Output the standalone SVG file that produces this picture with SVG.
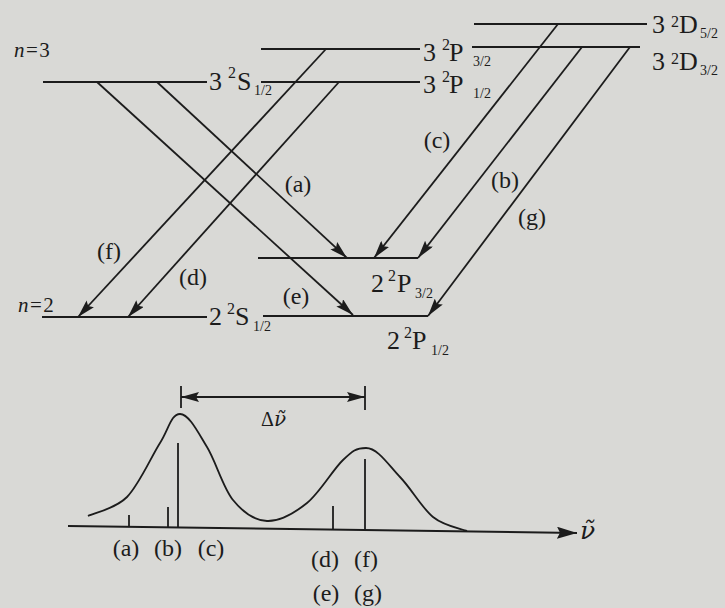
<svg xmlns="http://www.w3.org/2000/svg" width="725" height="608" viewBox="0 0 725 608">
<defs>
<marker id="ah" markerUnits="userSpaceOnUse" markerWidth="18" markerHeight="10" refX="18" refY="5" orient="auto-start-reverse" viewBox="0 0 18 10"><path d="M0,0 L18,5 L0,10 L3,5 Z" fill="#1c1c1c"/></marker>
<marker id="ax" markerUnits="userSpaceOnUse" markerWidth="20" markerHeight="12" refX="20" refY="6" orient="auto" viewBox="0 0 20 12"><path d="M0,0 L20,6 L0,12 L3,6 Z" fill="#1c1c1c"/></marker>
</defs>
<style>
.lv{stroke:#1c1c1c;stroke-width:2;fill:none}
.tr{stroke:#1c1c1c;stroke-width:1.8;fill:none;marker-end:url(#ah)}
.st{stroke:#1c1c1c;stroke-width:1.8;fill:none}
text{fill:#1c1c1c}
.lb{font-size:26px}
.sup{font-size:16px}
.sub{font-size:14px}
.tl{font-size:24px;text-anchor:middle}
.nl{font-size:21px;letter-spacing:1.5px}
.nu{font-family:'DejaVu Serif',serif;font-style:italic}
</style>
<rect x="0" y="0" width="725" height="608" fill="#d9d9d6"/>
<g font-family="'Liberation Serif', 'DejaVu Serif', serif">
<g id="label-n3"><text class="nl" x="14" y="57"><tspan font-style="italic">n</tspan>=3</text></g>
<g id="label-n2"><text class="nl" x="18" y="312"><tspan font-style="italic">n</tspan>=2</text></g>

<g id="L3S12">
<line class="lv" x1="43" y1="82" x2="207" y2="82"/>
<text class="lb"><tspan x="209" y="90">3</tspan><tspan class="sup" x="228" y="78">2</tspan><tspan x="237" y="90">S</tspan><tspan class="sub" x="254" y="95">1/2</tspan></text>
</g>
<g id="L3P32">
<line class="lv" x1="261" y1="49" x2="420" y2="49"/>
<text class="lb"><tspan x="423" y="61">3</tspan><tspan class="sup" x="442" y="50">2</tspan><tspan x="449" y="61">P</tspan><tspan class="sub" x="473" y="66">3/2</tspan></text>
</g>
<g id="L3P12">
<line class="lv" x1="261" y1="82" x2="420" y2="82"/>
<text class="lb"><tspan x="423" y="93">3</tspan><tspan class="sup" x="442" y="82">2</tspan><tspan x="449" y="93">P</tspan><tspan class="sub" x="473" y="98">1/2</tspan></text>
</g>
<g id="L3D52">
<line class="lv" x1="474" y1="24" x2="647" y2="24"/>
<text class="lb"><tspan x="652" y="33">3</tspan><tspan class="sup" x="671" y="27">2</tspan><tspan x="679" y="33">D</tspan><tspan class="sub" x="700" y="38">5/2</tspan></text>
</g>
<g id="L3D32">
<line class="lv" x1="472" y1="47" x2="640" y2="47"/>
<text class="lb"><tspan x="652" y="70">3</tspan><tspan class="sup" x="671" y="64">2</tspan><tspan x="679" y="70">D</tspan><tspan class="sub" x="700" y="75">3/2</tspan></text>
</g>
<g id="L2S12">
<line class="lv" x1="42" y1="317" x2="207" y2="317"/>
<text class="lb"><tspan x="209" y="325">2</tspan><tspan class="sup" x="227" y="314">2</tspan><tspan x="235" y="325">S</tspan><tspan class="sub" x="253" y="331">1/2</tspan></text>
</g>
<g id="L2P32">
<line class="lv" x1="258" y1="258" x2="418" y2="258"/>
<text class="lb"><tspan x="371" y="292">2</tspan><tspan class="sup" x="388" y="281">2</tspan><tspan x="397" y="292">P</tspan><tspan class="sub" x="415" y="298">3/2</tspan></text>
</g>
<g id="L2P12">
<line class="lv" x1="263" y1="316" x2="428" y2="316"/>
<text class="lb"><tspan x="387" y="349">2</tspan><tspan class="sup" x="404" y="338">2</tspan><tspan x="412" y="349">P</tspan><tspan class="sub" x="431" y="355">1/2</tspan></text>
</g>

<g id="connectors">
<line class="tr" x1="157" y1="82" x2="347" y2="258"/>
<line class="tr" x1="97" y1="82" x2="353" y2="315"/>
<line class="tr" x1="326" y1="49" x2="78" y2="317"/>
<line class="tr" x1="339" y1="82" x2="128" y2="317"/>
<line class="tr" x1="558" y1="24" x2="374" y2="258"/>
<line class="tr" x1="582" y1="47" x2="418" y2="258"/>
<line class="tr" x1="630" y1="47" x2="428" y2="316"/>
<text class="tl" x="298" y="192">(a)</text>
<text class="tl" x="505" y="188">(b)</text>
<text class="tl" x="437" y="148">(c)</text>
<text class="tl" x="193" y="285">(d)</text>
<text class="tl" x="296" y="304">(e)</text>
<text class="tl" x="109" y="259">(f)</text>
<text class="tl" x="532" y="225">(g)</text>
</g>

<g id="spectrum">
<line x1="68" y1="526" x2="577" y2="533" stroke="#1c1c1c" stroke-width="2" marker-end="url(#ax)"/>
<text class="nu" x="580" y="539" font-size="25">ν̃</text>
<path class="st" d="M88,516 C94.5,512.8 115,509.2 127,497 C139,484.8 151.2,456.8 160,443 C168.8,429.2 171,414 180,414 C189,414 198.2,432.7 207,447 C215.8,461.3 223,487.7 233,500 C243,512.3 254.7,520.5 267,521 C279.3,521.5 294.3,513.2 307,503 C319.7,492.8 333.2,469.2 343,460 C352.8,450.8 356,448 366,448 C378,448 388.8,465.5 400,477 C411.2,488.5 421.8,507.8 433,517 C444.2,526.2 461.3,528.7 467,531"/>
<line class="st" x1="129" y1="515" x2="129" y2="527"/>
<line class="st" x1="168" y1="507" x2="168" y2="527.5"/>
<line class="st" x1="178" y1="443" x2="178" y2="527.5"/>
<line class="st" x1="333" y1="506" x2="333" y2="529.6"/>
<line class="st" x1="365" y1="459" x2="365" y2="530"/>
<text class="tl" x="126" y="556">(a)</text>
<text class="tl" x="168" y="556">(b)</text>
<text class="tl" x="211" y="556">(c)</text>
<text class="tl" x="325" y="567">(d)</text>
<text class="tl" x="366" y="567">(f)</text>
<text class="tl" x="326" y="601">(e)</text>
<text class="tl" x="368" y="601">(g)</text>
<line class="st" x1="181" y1="386" x2="181" y2="408"/>
<line class="st" x1="365" y1="386" x2="365" y2="410"/>
<line x1="181" y1="397" x2="365" y2="397" stroke="#1c1c1c" stroke-width="1.8" marker-start="url(#ah)" marker-end="url(#ah)"/>
<text x="261" y="426" font-size="20">Δ<tspan class="nu">ν̃</tspan></text>
</g>
</g>
</svg>
